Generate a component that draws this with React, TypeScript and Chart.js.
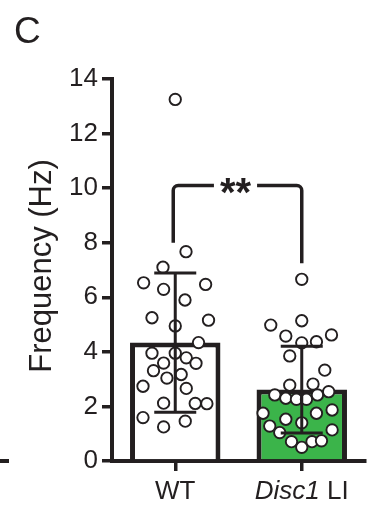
import React, { useEffect, useRef } from "react";
import { Chart, registerables } from "chart.js";

Chart.register(...registerables);

// ---- data ----
const categories = ["WT", "Disc1 LI"];
const barMeans = [4.34, 2.62];
const barSD = [2.55, 1.59];
const yTickMin = 0;
const yTickMax = 14;
const yTickStep = 2;

const wtValues = [
  13.25, 7.67, 7.1, 6.53, 6.29, 6.47, 5.9, 5.25, 4.95, 5.16, 4.34, 3.95, 3.95, 3.78,
  3.59, 3.58, 3.31, 3.04, 3.17, 2.74, 2.66, 2.12, 2.11, 2.1, 1.59, 1.25, 1.46,
];
const wtJitter = [
  0, 0.085, -0.097, -0.25, -0.092, 0.24, 0.077, -0.184, 0, 0.263, 0.184, -0.184, 0, 0.087,
  -0.092, 0.164, -0.172, -0.066, 0.047, -0.255, 0.087, -0.092, 0.158, 0.25, -0.255, -0.092, 0.079,
];

const discValues = [
  6.66, 4.98, 5.14, 4.58, 4.62, 4.33, 4.37, 3.85, 3.33, 2.78, 2.82, 2.42, 2.3, 2.26, 2.26,
  2.42, 2.54, 1.75, 1.53, 1.75, 1.87, 1.4, 1.28, 1.04, 1.14, 0.71, 0.5, 0.71, 0.74,
];
const discJitter = [
  0, -0.245, 0, -0.126, 0.235, 0, 0.116, -0.095, 0.182, -0.095, 0.089, -0.213, -0.126, -0.042,
  0.037, 0.124, 0.213, -0.306, -0.126, 0.116, 0.24, 0, -0.253, -0.174, 0.24, -0.081, 0, 0.081, 0.156,
];

const bracketTop = 10.1;
const bracketLeftEnd = 8.0;
const bracketRightEnd = 7.25;
const significance = "**";
const yTitle = "Frequency (Hz)";
const panelLetter = "C";

const INK = "#231f20";
const GREEN = "#3bb44a";
const FONT = "'Liberation Sans', Arial, Helvetica, sans-serif";

const overlayPlugin = {
  id: "overlay",
  afterDatasetsDraw(chart: any) {
    const { ctx, chartArea, scales } = chart;
    const x = scales.x;
    const y = scales.y;
    ctx.save();

    // error bars
    ctx.strokeStyle = INK;
    ctx.lineWidth = 3;
    ctx.lineCap = "butt";
    barMeans.forEach((m, i) => {
      const cx = x.getPixelForValue(i);
      const top = y.getPixelForValue(m + barSD[i]);
      const bot = y.getPixelForValue(m - barSD[i]);
      const hw = 21;
      ctx.beginPath();
      ctx.moveTo(cx, top);
      ctx.lineTo(cx, bot);
      ctx.moveTo(cx - hw, top);
      ctx.lineTo(cx + hw, top);
      ctx.moveTo(cx - hw, bot);
      ctx.lineTo(cx + hw, bot);
      ctx.stroke();
    });

    // significance bracket
    const lx = x.getPixelForValue(0) - 2;
    const rx = x.getPixelForValue(1);
    const by = y.getPixelForValue(bracketTop);
    const ly = y.getPixelForValue(bracketLeftEnd);
    const ry = y.getPixelForValue(bracketRightEnd);
    ctx.font = `bold 40px ${FONT}`;
    const tw = ctx.measureText(significance).width;
    const mx = (lx + rx) / 2 - 2;
    const gap = tw / 2 + 6;
    const r = 5;
    ctx.lineWidth = 3.5;
    ctx.beginPath();
    ctx.moveTo(lx, ly);
    ctx.lineTo(lx, by + r);
    ctx.arcTo(lx, by, lx + r, by, r);
    ctx.lineTo(mx - gap, by);
    ctx.moveTo(mx + gap, by);
    ctx.lineTo(rx - r, by);
    ctx.arcTo(rx, by, rx, by + r, r);
    ctx.lineTo(rx, ry);
    ctx.stroke();
    ctx.fillStyle = INK;
    ctx.textAlign = "center";
    ctx.textBaseline = "alphabetic";
    ctx.fillText(significance, mx, by + 21);

    // x labels
    const fs = 26;
    ctx.font = `${fs}px ${FONT}`;
    ctx.textBaseline = "alphabetic";
    const labelY = chartArea.bottom + 38;
    ctx.textAlign = "center";
    ctx.fillText(categories[0], x.getPixelForValue(0), labelY);
    const [itPart, rest] = categories[1].split(" ");
    ctx.font = `italic ${fs}px ${FONT}`;
    const w1 = ctx.measureText(itPart).width;
    ctx.font = `${fs}px ${FONT}`;
    const w2 = ctx.measureText(" " + rest).width;
    const sx = x.getPixelForValue(1) - (w1 + w2) / 2;
    ctx.textAlign = "left";
    ctx.font = `italic ${fs}px ${FONT}`;
    ctx.fillText(itPart, sx, labelY);
    ctx.font = `${fs}px ${FONT}`;
    ctx.fillText(" " + rest, sx + w1, labelY);

    // y title
    ctx.save();
    ctx.translate(42, (chartArea.top + chartArea.bottom) / 2 - 4);
    ctx.rotate(-Math.PI / 2);
    ctx.textAlign = "center";
    ctx.textBaseline = "middle";
    ctx.font = `31px ${FONT}`;
    ctx.fillText(yTitle, 0, 0);
    ctx.restore();

    // panel letter
    ctx.font = `37px ${FONT}`;
    ctx.textAlign = "left";
    ctx.textBaseline = "alphabetic";
    ctx.fillText(panelLetter, 14, 43);

    // fragment of neighbouring panel axis
    ctx.lineWidth = 4;
    ctx.beginPath();
    ctx.moveTo(0, chartArea.bottom);
    ctx.lineTo(9, chartArea.bottom);
    ctx.stroke();

    ctx.restore();
  },
};

export default function App() {
  const ref = useRef<HTMLCanvasElement>(null);

  useEffect(() => {
    if (!ref.current) return;
    const points = [
      ...wtValues.map((v, i) => ({ x: 0 + wtJitter[i], y: v })),
      ...discValues.map((v, i) => ({ x: 1 + discJitter[i], y: v })),
    ];
    const chart = new Chart(ref.current, {
      type: "bar",
      data: {
        labels: categories,
        datasets: [
          {
            type: "bar",
            data: barMeans,
            backgroundColor: ["#ffffff", GREEN],
            borderColor: INK,
            borderWidth: 5,
            barPercentage: 0.715,
            categoryPercentage: 1,
            grouped: false,
            order: 2,
          } as any,
          {
            type: "scatter",
            xAxisID: "xj",
            data: points,
            pointRadius: 5.7,
            pointBorderWidth: 1.9,
            pointBackgroundColor: "#ffffff",
            pointBorderColor: INK,
            showLine: false,
            order: 1,
          } as any,
        ],
      },
      options: {
        responsive: false,
        animation: false,
        events: [],
        layout: { padding: { left: 0, top: 79, right: 10, bottom: 0 } },
        plugins: { legend: { display: false }, tooltip: { enabled: false } },
        scales: {
          x: {
            type: "category",
            offset: true,
            grid: {
              display: true,
              offset: false,
              drawOnChartArea: false,
              drawTicks: true,
              tickLength: 10,
              lineWidth: 3.5,
              color: INK,
            },
            border: { display: true, width: 4, color: INK },
            ticks: { display: false },
            afterFit: (s: any) => {
              s.height = 52;
            },
          },
          xj: {
            type: "linear",
            display: false,
            offset: false,
            min: -0.5,
            max: 1.5,
          },
          y: {
            min: yTickMin,
            max: yTickMax,
            grid: {
              display: true,
              drawOnChartArea: false,
              drawTicks: true,
              tickLength: 10,
              lineWidth: 3.5,
              color: INK,
            },
            border: { display: true, width: 4, color: INK },
            ticks: {
              stepSize: yTickStep,
              color: INK,
              padding: 4,
              font: { family: FONT, size: 26 },
            },
            afterFit: (s: any) => {
              s.width = 112;
            },
          },
        },
      },
      plugins: [overlayPlugin],
    });
    return () => chart.destroy();
  }, []);

  return (
    <div style={{ position: "absolute", left: 0, top: 0, width: 375, height: 513, background: "#fff" }}>
      <canvas ref={ref} width={375} height={513} style={{ display: "block" }} />
    </div>
  );
}
